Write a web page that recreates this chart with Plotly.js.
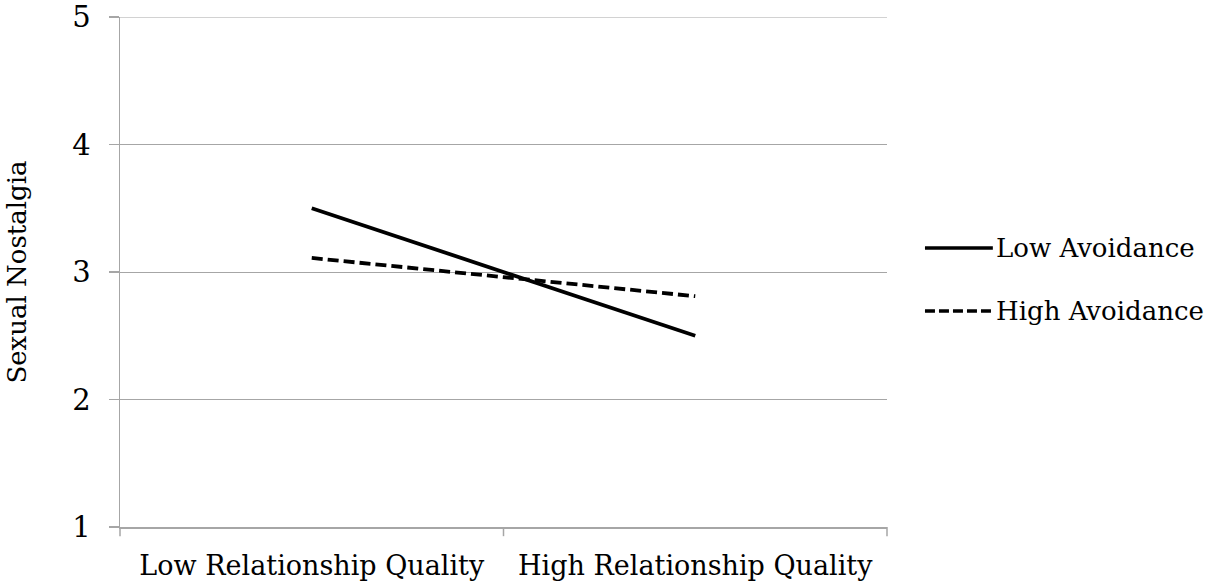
<!DOCTYPE html>
<html><head><meta charset="utf-8">
<script src="https://cdn.plot.ly/plotly-3.0.1.min.js"></script>
<style>html,body{margin:0;padding:0;background:#fff}</style>
</head><body>
<div id="chart" style="width:1212px;height:582px"></div>
<script>
const categories = ["Low Relationship Quality", "High Relationship Quality"];
const lowAvoidance = [3.5, 2.5];
const highAvoidance = [3.11, 2.81];
const yTicks = [1, 2, 3, 4, 5];
const seriesNames = ["Low Avoidance", "High Avoidance"];

const fam = "DejaVu Serif, Liberation Serif, serif";
const lineStyles = [
  {color: "#000", width: 3.8},
  {color: "#000", width: 3.8, dash: "11px,5px"}
];

const traces = [
  {x: categories, y: lowAvoidance, name: seriesNames[0], type: "scatter", mode: "lines", line: lineStyles[0]},
  {x: categories, y: highAvoidance, name: seriesNames[1], type: "scatter", mode: "lines", line: lineStyles[1]}
];

// manual legend (long line samples like the original)
const legY = [0.547, 0.4235];
const legShapes = seriesNames.map((n, i) => ({type: "line", xref: "paper", yref: "paper",
  x0: 1.0495, x1: 1.138, y0: legY[i], y1: legY[i],
  line: i === 1 ? {color: "#000", width: 3.5, dash: "10px,4px"} : {color: "#000", width: 3.5}}));
const legAnn = seriesNames.map((n, i) => ({xref: "paper", yref: "paper", x: 1.139, y: legY[i],
  xanchor: "left", yanchor: "middle", text: n, showarrow: false, font: {family: fam, size: 26, color: "#000"}}));

// top gridline (at the range edge)
const topGrid = {type: "line", xref: "paper", yref: "y", x0: 0, x1: 1,
  y0: yTicks[yTicks.length - 1], y1: yTicks[yTicks.length - 1], line: {color: "#a6a6a6", width: 1}};

const layout = {
  width: 1212, height: 582,
  margin: {l: 120, r: 325, t: 17, b: 55},
  paper_bgcolor: "#fff", plot_bgcolor: "#fff",
  font: {family: fam, color: "#000", size: 27},
  showlegend: false,
  xaxis: {
    type: "category", range: [-0.5, 1.5],
    showline: true, linecolor: "#a6a6a6", linewidth: 1.5,
    showgrid: false, zeroline: false,
    ticks: "", tickfont: {size: 27}, ticklabelstandoff: 14
  },
  yaxis: {
    range: [1, 5], tickvals: yTicks,
    showline: true, linecolor: "#a6a6a6", linewidth: 1.5,
    showgrid: true, gridcolor: "#a6a6a6", gridwidth: 1,
    zeroline: false, ticks: "outside", ticklen: 10, tickcolor: "#a6a6a6", tickwidth: 1.5,
    tickfont: {size: 29}, ticklabelstandoff: 12,
    title: {text: "Sexual Nostalgia", font: {size: 26}, standoff: 38}
  },
  shapes: [0, 0.5, 1].map(p => ({type: "line", xref: "paper", yref: "paper",
    x0: p, x1: p, y0: 0, y1: -0.018, line: {color: "#a6a6a6", width: 1.5}})).concat(legShapes, [topGrid]),
  annotations: legAnn
};

Plotly.newPlot("chart", traces, layout, {displayModeBar: false, staticPlot: true});
</script>
</body></html>
